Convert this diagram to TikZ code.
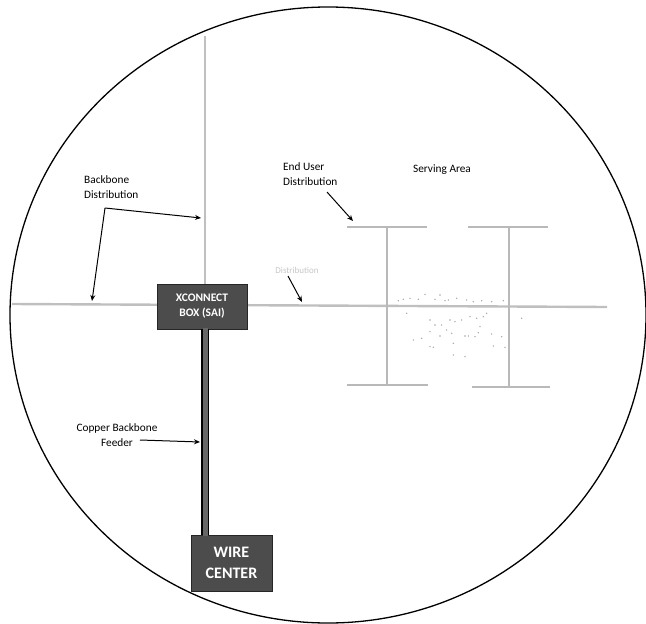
\documentclass[tikz,border=0pt]{standalone}
\usepackage{fontspec}
\setmainfont{Carlito}
\usetikzlibrary{arrows.meta,calc}
\begin{document}
\begin{tikzpicture}[x=1pt,y=-1pt,
  cable/.style={draw=gray!50, line width=2.4pt},
  hbar/.style={draw=gray!55, line width=2pt},
  lbl/.style={font=\fontsize{11.3}{15}\selectfont, inner sep=0pt},
  faded/.style={font=\fontsize{9}{11}\selectfont, text=gray!45, inner sep=0pt},
  pointer/.style={-{Stealth[length=6pt,width=5pt]}, line width=1pt},
  darkbox/.style={fill=black!70, draw=black!85, text=white, align=center, inner sep=0pt},
  dot/.style={fill=gray!70}]
\useasboundingbox (0,0) rectangle (646,624);
% boundary
\draw[line width=1.3pt] (328,315) ellipse [x radius=318, y radius=308];
% coordinates
\coordinate (fx) at (205,0);
\coordinate (hL) at (12,304);
\coordinate (hR) at (607,307);
\coordinate (vtop) at (205,36);
% main gray lines
\draw[cable] (hL) -- (hR);
% boxes
\node[darkbox, minimum width=90pt, minimum height=45pt, font=\bfseries\fontsize{11.5}{15}\selectfont] (xc) at (202,306.5) {XCONNECT\\BOX (SAI)};
\draw[cable] (vtop) -- (xc.north -| fx);
\node[darkbox, minimum width=81pt, minimum height=56pt, font=\bfseries\fontsize{16}{21}\selectfont] (wc) at (231.5,563) {WIRE\\CENTER};
% feeder
\draw[line width=7.5pt, black] (xc.south -| fx) -- (wc.north -| fx);
\draw[line width=5pt, black!60] ([yshift=1pt]xc.south -| fx) -- ([yshift=-1pt]wc.north -| fx);
% H shapes (serving area)
\coordinate (h1t) at (387,227);
\coordinate (h1b) at (387,385);
\coordinate (h2t) at (509,227);
\coordinate (h2b) at (509,387);
\draw[hbar] (347,227) -- (427,227);
\draw[hbar] (347,385) -- (428,385);
\draw[hbar] (h1t) -- (h1b);
\draw[hbar] (468,227) -- (548,227);
\draw[hbar] (472,387) -- (550,387);
\draw[hbar] (h2t) -- (h2b);
% scattered dots
\foreach \a/\b in {205/272,220/268,240/265,265/268,285/253,315/268,330/255,345/272,355/270,380/265,410/270,430/275,455/272,485/275,520/272,
  230/310,300/330,315/345,335/345,360/330,375/335,395/330,420/320,440/325,460/320,470/310,350/360,330/378,365/370,300/365,
  250/390,275/385,300/410,310/412,370/400,405/378,415/378,435/380,445/368,485/372,490/408,525/412,515/380,575/325,405/440,370/435,450/350}
  \fill[dot] ({330+\a/3},{210+\b/3}) circle (0.8pt);
% labels
\node[lbl, anchor=north west, align=left] (bbd) at (84,175) {Backbone\\Distribution};
\coordinate (bbk) at (105,208);
\coordinate (bbL) at (92,301);
\coordinate (bbV) at (201,218);
\draw[pointer] (bbk) -- (bbL);
\draw[pointer] (bbk) -- (bbV);
\node[faded] (dist) at (297,270) {Distribution};
\coordinate (distA) at (288,276);
\coordinate (distB) at (302,302);
\draw[pointer] (distA) -- (distB);
\node[lbl, anchor=north west, align=left] (eud) at (283,162) {End User\\Distribution};
\coordinate (eudA) at (327,192);
\coordinate (eudB) at (353,221);
\draw[pointer] (eudA) -- (eudB);
\node[lbl] (sa) at (442,170) {Serving Area};
\node[lbl, align=center] (cbf) at (117,435) {Copper Backbone\\Feeder};
\coordinate (cbfA) at (140,440);
\coordinate (cbfB) at (200,442);
\draw[pointer] (cbfA) -- (cbfB);
\end{tikzpicture}
\end{document}
